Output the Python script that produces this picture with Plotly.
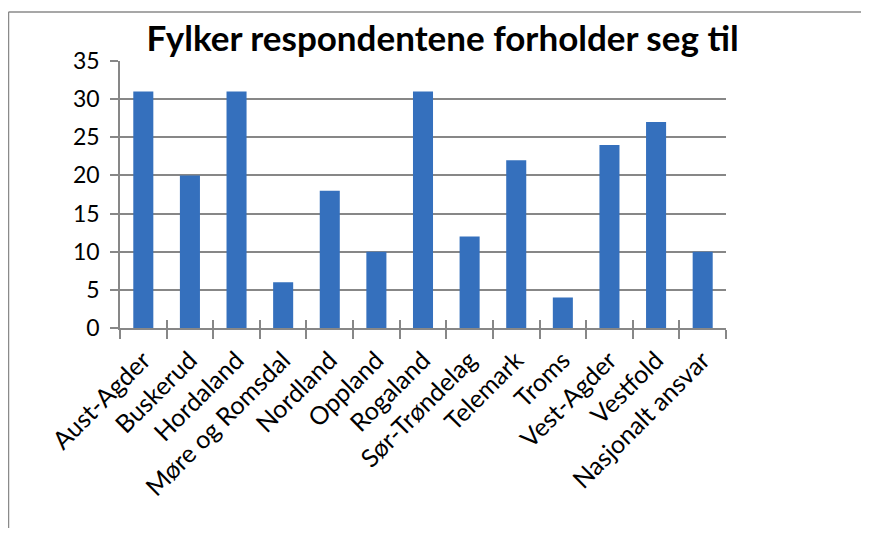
import numpy as np
import plotly.graph_objects as go

categories = ["Aust-Agder", "Buskerud", "Hordaland", "Møre og Romsdal", "Nordland",
              "Oppland", "Rogaland", "Sør-Trøndelag", "Telemark", "Troms",
              "Vest-Agder", "Vestfold", "Nasjonalt ansvar"]
values = [31, 20, 31, 6, 18, 10, 31, 12, 22, 4, 24, 27, 10]
y_ticks = [0, 5, 10, 15, 20, 25, 30, 35]
title_text = "Fylker respondentene forholder seg til"

FONT = "Lato"
GRID = "#878787"
BORDER = "#8a8a8a"

fig = go.Figure()
fig.add_trace(go.Bar(x=categories, y=values, width=0.43,
                     marker=dict(color="#3570bd", line=dict(width=0)),
                     hoverinfo="x+y"))
# invisible trace to host the inner (upward) halves of the crossing x ticks
fig.add_trace(go.Scatter(x=[None], y=[None], xaxis="x2", showlegend=False))

n = len(categories)
boundaries = list(np.arange(-0.5, n, 1.0))

fig.update_layout(
    width=853, height=520,
    paper_bgcolor="white", plot_bgcolor="white",
    margin=dict(l=112, r=135, t=53, b=200, pad=0),
    showlegend=False,
    bargap=0.57,
    title=dict(text=title_text, x=0.5094, xanchor="center", y=0.941, yanchor="middle",
               font=dict(family=FONT, size=35, color="black", weight="bold")),
    font=dict(family=FONT, color="black"),
    xaxis=dict(type="category", categoryorder="array", categoryarray=categories,
               range=[-0.5, n - 0.5], tickson="boundaries",
               ticks="outside", ticklen=9, tickwidth=1.5, tickcolor=GRID,
               showline=True, linecolor=GRID, linewidth=1.5,
               showgrid=False, tickangle=-45, ticklabelstandoff=6,
               tickfont=dict(family=FONT, size=25, color="black")),
    xaxis2=dict(overlaying="x", anchor="y", side="bottom", range=[-0.5, n - 0.5],
                tickmode="array", tickvals=boundaries, ticks="inside", ticklen=8,
                tickwidth=1.5, tickcolor=GRID, showticklabels=False,
                showgrid=False, zeroline=False, showline=False),
    yaxis=dict(range=[0, 35], tickmode="array", tickvals=y_ticks,
               showgrid=True, gridcolor=GRID, gridwidth=1.5,
               ticks="outside", ticklen=8, tickwidth=1.5, tickcolor=GRID,
               showline=True, linecolor=GRID, linewidth=1.5,
               zeroline=False, ticklabelstandoff=6,
               tickfont=dict(family=FONT, size=23, color="black")),
    shapes=[
        dict(type="line", xref="paper", yref="paper",
             x0=-0.184, y0=-0.75, x1=-0.184, y1=1.1835,
             line=dict(color=BORDER, width=1.5), layer="below"),
        dict(type="line", xref="paper", yref="paper",
             x0=-0.184, y0=1.1835, x1=1.223, y1=1.1835,
             line=dict(color=BORDER, width=1.5), layer="below"),
    ],
)

fig.write_html("out.html", config={"displayModeBar": False})
